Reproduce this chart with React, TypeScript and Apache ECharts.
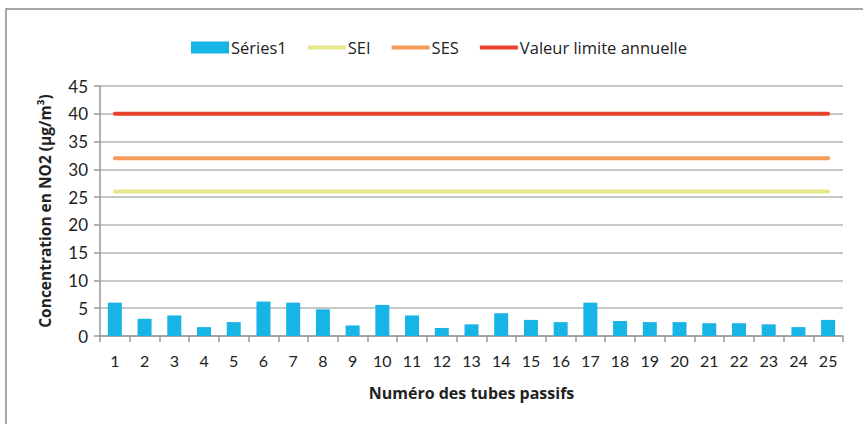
import React, { useEffect, useRef } from "react";
import * as echarts from "echarts";

const categories = ["1","2","3","4","5","6","7","8","9","10","11","12","13","14","15","16","17","18","19","20","21","22","23","24","25"];
const series1 = [6.0, 3.1, 3.7, 1.6, 2.5, 6.2, 6.0, 4.8, 1.9, 5.6, 3.7, 1.45, 2.1, 4.1, 2.9, 2.5, 6.0, 2.7, 2.5, 2.5, 2.3, 2.3, 2.1, 1.6, 2.9];
const sei = [26,26,26,26,26,26,26,26,26,26,26,26,26,26,26,26,26,26,26,26,26,26,26,26,26];
const ses = [32,32,32,32,32,32,32,32,32,32,32,32,32,32,32,32,32,32,32,32,32,32,32,32,32];
const vla = [40,40,40,40,40,40,40,40,40,40,40,40,40,40,40,40,40,40,40,40,40,40,40,40,40];

const FONT = "Lato";
const NAMEFONT = "Open Sans";

export default function App() {
  const ref = useRef<HTMLDivElement>(null);
  useEffect(() => {
    if (!ref.current) return;
    const chart = echarts.init(ref.current, null, { renderer: "svg" });
    chart.setOption({
      animation: false,
      textStyle: { fontFamily: FONT, color: "#222" },
      graphic: [
        {
          type: "rect",
          shape: { x: 6, y: 9, width: 900, height: 460 },
          style: { fill: "none", stroke: "#8a8a8a", lineWidth: 1.5 },
          silent: true,
          z: -1,
        },
      ],
      legend: {
        top: 34,
        left: 186,
        itemGap: 21,
        itemWidth: 38,
        itemHeight: 12,
        textStyle: { fontFamily: NAMEFONT, fontSize: 16.5, color: "#222", padding: [0, 0, 0, -3] },
        data: [
          { name: "Séries1", icon: "rect" },
          { name: "SEI", icon: "path://M0,0 H40 V4 H0 Z" },
          { name: "SES", icon: "path://M0,0 H40 V4 H0 Z" },
          { name: "Valeur limite annuelle", icon: "path://M0,0 H40 V4 H0 Z" },
        ],
      },
      grid: { left: 100, right: 20, top: 86, bottom: 88 },
      xAxis: {
        type: "category",
        data: categories,
        boundaryGap: true,
        name: "Numéro des tubes passifs",
        nameLocation: "middle",
        nameGap: 49,
        nameTextStyle: { fontFamily: NAMEFONT, fontWeight: "bold", fontSize: 16, color: "#222" },
        axisLine: { lineStyle: { color: "#999", width: 1.5 } },
        axisTick: { show: true, length: 6, alignWithLabel: false, lineStyle: { color: "#999", width: 1.5 } },
        axisLabel: { fontSize: 16, color: "#222", margin: 16, interval: 0 },
      },
      yAxis: {
        type: "value",
        min: 0,
        max: 45,
        interval: 5,
        name: "Concentration en NO2 (µg/m³)",
        nameLocation: "middle",
        nameGap: 47,
        nameRotate: 90,
        nameTextStyle: { fontFamily: NAMEFONT, fontWeight: "bold", fontSize: 15.5, color: "#222" },
        axisLine: { show: true, lineStyle: { color: "#999", width: 1.5 } },
        axisTick: { show: true, length: 6, lineStyle: { color: "#999", width: 1.5 } },
        axisLabel: { fontSize: 17, color: "#222", margin: 12 },
        splitLine: { lineStyle: { color: "#b5b5b5", width: 1.5 } },
      },
      series: [
        {
          name: "Séries1",
          type: "bar",
          data: series1,
          barWidth: 14,
          itemStyle: { color: "#17B4E6" },
        },
        {
          name: "SEI",
          type: "line",
          data: sei,
          symbol: "none",
          lineStyle: { color: "#E5E88A", width: 4, cap: "round" },
          itemStyle: { color: "#E5E88A" },
        },
        {
          name: "SES",
          type: "line",
          data: ses,
          symbol: "none",
          lineStyle: { color: "#F59B5C", width: 4, cap: "round" },
          itemStyle: { color: "#F59B5C" },
        },
        {
          name: "Valeur limite annuelle",
          type: "line",
          data: vla,
          symbol: "none",
          lineStyle: { color: "#E8412C", width: 4, cap: "round" },
          itemStyle: { color: "#E8412C" },
        },
      ],
    });
    return () => chart.dispose();
  }, []);
  return <div ref={ref} style={{ width: 863, height: 424, position: "absolute", left: 0, top: 0, background: "#fff" }} />;
}
